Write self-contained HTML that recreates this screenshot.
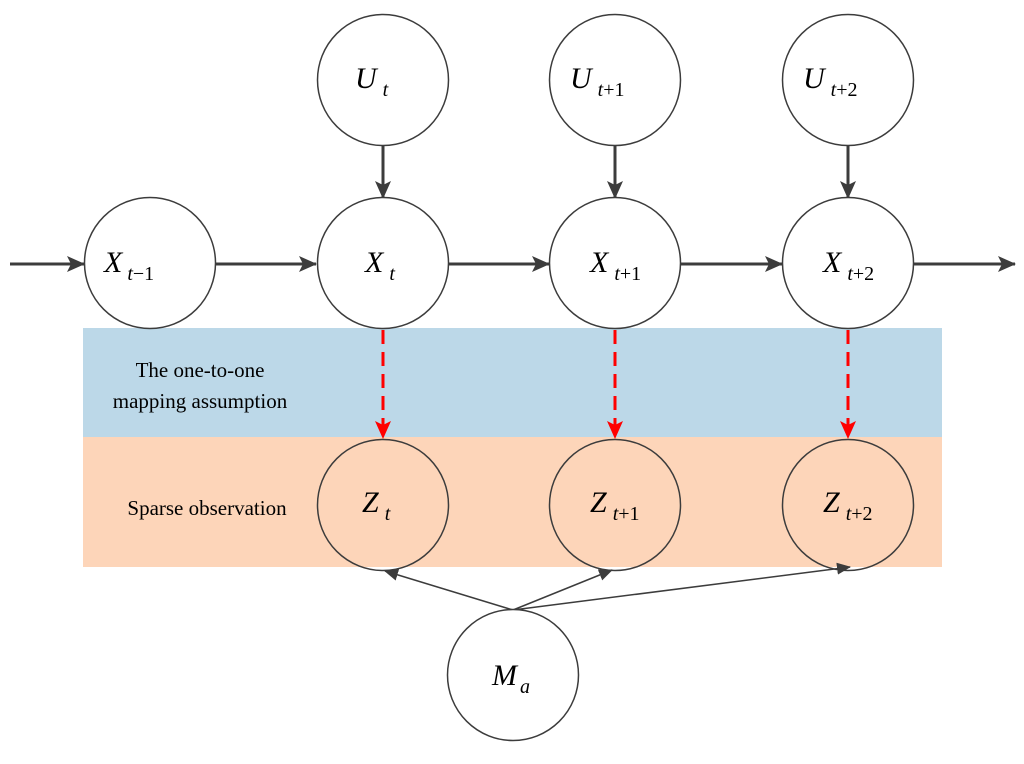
<!DOCTYPE html>
<html><head><style>
html,body{margin:0;padding:0;background:#fff;}
svg text{font-family:"Liberation Serif",serif;}
.n{font-style:normal;}
</style></head><body>
<svg width="1024" height="759" viewBox="0 0 1024 759" xmlns="http://www.w3.org/2000/svg">
<defs>
<marker id="ah" markerWidth="14" markerHeight="12" refX="13" refY="6" orient="auto" markerUnits="userSpaceOnUse"><path d="M0,0 L14,6 L0,12 z" fill="#3c3c3c"/></marker>
<marker id="ab" markerWidth="18" markerHeight="16" refX="17" refY="8" orient="auto" markerUnits="userSpaceOnUse"><path d="M0,0 L18,8 L0,16 L4,8 z" fill="#3c3c3c"/></marker>
<marker id="ar" markerWidth="18" markerHeight="16" refX="17" refY="8" orient="auto" markerUnits="userSpaceOnUse"><path d="M0,0 L18,8 L0,16 L4,8 z" fill="#ff0000"/></marker>
</defs>
<rect x="83" y="328" width="859" height="109" fill="#bcd8e8"/>
<rect x="83" y="437" width="859" height="130" fill="#fdd5b9"/>
<g stroke="#3c3c3c" stroke-width="3" fill="none">
<line x1="10" y1="264" x2="84" y2="264" marker-end="url(#ab)"/>
<line x1="216" y1="264" x2="316" y2="264" marker-end="url(#ab)"/>
<line x1="449" y1="264" x2="549" y2="264" marker-end="url(#ab)"/>
<line x1="681" y1="264" x2="782" y2="264" marker-end="url(#ab)"/>
<line x1="914" y1="264" x2="1015" y2="264" marker-end="url(#ab)"/>
<line x1="383" y1="146" x2="383" y2="198" marker-end="url(#ab)"/>
<line x1="615" y1="146" x2="615" y2="198" marker-end="url(#ab)"/>
<line x1="848" y1="146" x2="848" y2="198" marker-end="url(#ab)"/>
</g>
<g stroke="#ff0000" stroke-width="3" fill="none" stroke-dasharray="14,8">
<line x1="383" y1="330" x2="383" y2="438" marker-end="url(#ar)"/>
<line x1="615" y1="330" x2="615" y2="438" marker-end="url(#ar)"/>
<line x1="848" y1="330" x2="848" y2="438" marker-end="url(#ar)"/>
</g>
<g stroke="#3c3c3c" stroke-width="1.5" fill="none">
<line x1="513" y1="610" x2="385" y2="571" marker-end="url(#ah)"/>
<line x1="513" y1="610" x2="612" y2="570" marker-end="url(#ah)"/>
<line x1="513" y1="610" x2="850" y2="567" marker-end="url(#ah)"/>
</g>
<g stroke="#3c3c3c" stroke-width="1.5" fill="#fff">
<circle cx="383" cy="80" r="65.5"/><circle cx="615" cy="80" r="65.5"/><circle cx="848" cy="80" r="65.5"/>
<circle cx="150" cy="263" r="65.5"/><circle cx="383" cy="263" r="65.5"/><circle cx="615" cy="263" r="65.5"/><circle cx="848" cy="263" r="65.5"/>
<circle cx="513" cy="675" r="65.5"/>
</g>
<g stroke="#3c3c3c" stroke-width="1.5" fill="none">
<circle cx="383" cy="505" r="65.5"/><circle cx="615" cy="505" r="65.5"/><circle cx="848" cy="505" r="65.5"/>
</g>
<g font-size="30" font-style="italic" fill="#000">
<text x="355" y="88">U<tspan font-size="20" dx="6" dy="8">t</tspan></text>
<text x="570" y="88">U<tspan font-size="20" dx="6" dy="8">t<tspan class="n">+1</tspan></tspan></text>
<text x="803" y="88">U<tspan font-size="20" dx="6" dy="8">t<tspan class="n">+2</tspan></tspan></text>
<text x="104" y="272">X<tspan font-size="20" dx="5" dy="8">t<tspan class="n">−1</tspan></tspan></text>
<text x="365" y="272">X<tspan font-size="20" dx="6" dy="8">t</tspan></text>
<text x="590" y="272">X<tspan font-size="20" dx="6" dy="8">t<tspan class="n">+1</tspan></tspan></text>
<text x="823" y="272">X<tspan font-size="20" dx="6" dy="8">t<tspan class="n">+2</tspan></tspan></text>
<text x="362" y="512">Z<tspan font-size="20" dx="6" dy="8">t</tspan></text>
<text x="590" y="512">Z<tspan font-size="20" dx="6" dy="8">t<tspan class="n">+1</tspan></tspan></text>
<text x="823" y="512">Z<tspan font-size="20" dx="6" dy="8">t<tspan class="n">+2</tspan></tspan></text>
<text x="492" y="685">M<tspan font-size="20" dx="3" dy="8">a</tspan></text>
</g>
<g font-size="21" fill="#000">
<text x="200" y="377" text-anchor="middle">The one-to-one</text>
<text x="200" y="408" text-anchor="middle">mapping assumption</text>
<text x="207" y="515" text-anchor="middle">Sparse observation</text>
</g>
</svg>
</body></html>
